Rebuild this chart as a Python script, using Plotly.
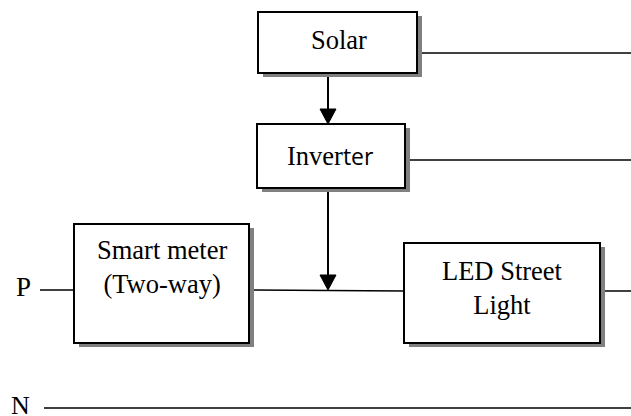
import plotly.graph_objects as go

# Diagram content
box_labels = ["Solar", "Inver<span style='font-family:Open Sans;font-size:23px'>ter</span>",
              "Smart meter<br>(Two-way)", "LED Street<br>Light"]
box_x0 = [258, 257, 74, 404]
box_x1 = [417, 405, 249, 600]
box_y0 = [12, 124, 224, 243]
box_y1 = [73, 188, 343, 343]
label_x = [339, 330, 162, 502]
label_y = [40, 156, 267, 288]

# connection lines (x0, y0, x1, y1)
lines = [
    (417, 53, 631, 53),
    (405, 160, 631, 160),
    (40, 290, 74, 290),
    (249, 290, 404, 291),
    (600, 291, 631, 291),
    (44, 408, 631, 408),
]
# arrows (x, y_start, y_tip)
arrows = [(328, 73, 124), (328, 188, 290)]

terminal_labels = ["P", "N"]
terminal_x = [23, 20]
terminal_y = [287, 405]
terminal_size = [27, 26]

W, H = 631, 416
fig = go.Figure()
shapes = []
annotations = []

for x0, x1, y0, y1 in zip(box_x0, box_x1, box_y0, box_y1):
    shapes.append(dict(type="rect", xref="x", yref="y", x0=x0 + 5, x1=x1 + 5, y0=y0 + 4, y1=y1 + 4,
                       fillcolor="#808080", line=dict(width=0), layer="above"))
    shapes.append(dict(type="rect", xref="x", yref="y", x0=x0, x1=x1, y0=y0, y1=y1,
                       fillcolor="white", line=dict(color="black", width=2), layer="above"))

for x0, y0, x1, y1 in lines:
    shapes.append(dict(type="line", xref="x", yref="y", x0=x0, y0=y0, x1=x1, y1=y1,
                       line=dict(color="black", width=1.5), layer="below"))

for x, ys, yt in arrows:
    shapes.append(dict(type="line", xref="x", yref="y", x0=x, y0=ys, x1=x, y1=yt - 10,
                       line=dict(color="black", width=2), layer="below"))
    shapes.append(dict(type="path", xref="x", yref="y",
                       path=f"M {x-8},{yt-15} L {x+8},{yt-15} L {x},{yt} Z",
                       fillcolor="black", line=dict(color="black", width=1), layer="above"))

for t, x, y in zip(box_labels, label_x, label_y):
    annotations.append(dict(x=x, y=y, xref="x", yref="y", text=t, showarrow=False,
                            xanchor="center", yanchor="middle",
                            font=dict(family="Liberation Serif", size=26.5, color="black")))

for t, x, y, s in zip(terminal_labels, terminal_x, terminal_y, terminal_size):
    annotations.append(dict(x=x, y=y, xref="x", yref="y", text=t, showarrow=False,
                            xanchor="center", yanchor="middle",
                            font=dict(family="Liberation Serif", size=s, color="black")))

fig.update_layout(
    width=W, height=H, margin=dict(l=0, r=0, t=0, b=0),
    plot_bgcolor="white", paper_bgcolor="white",
    xaxis=dict(range=[0, W], visible=False, fixedrange=True),
    yaxis=dict(range=[H, 0], visible=False, fixedrange=True),
    shapes=shapes, annotations=annotations, showlegend=False,
)
fig.write_html("out.html", config={"displayModeBar": False},
               post_script="document.body.style.margin='0';document.body.style.overflow='hidden';")
